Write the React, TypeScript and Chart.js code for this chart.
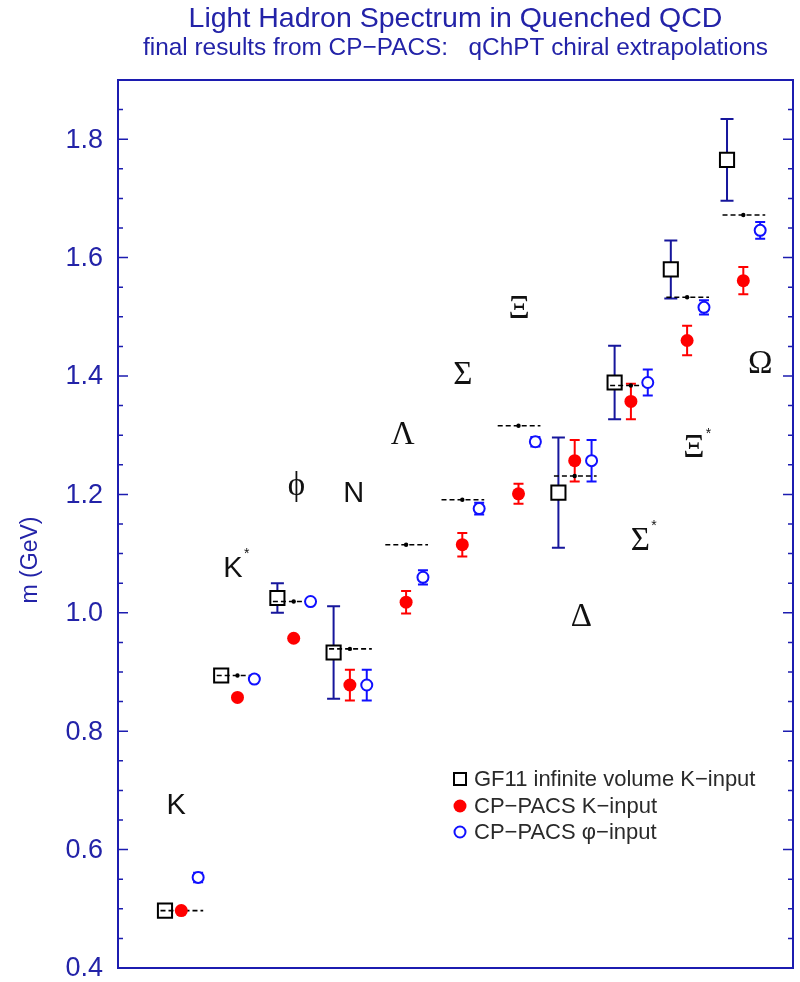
import React, { useEffect, useRef } from 'react';
import { Chart, registerables } from 'chart.js';

Chart.register(...registerables);

// ---------------- data ----------------
const hadronNames = ['K', 'K*', '\u03D5', 'N', 'Λ', 'Σ', 'Ξ', 'Δ', 'Σ*', 'Ξ*', 'Ω'];
const serifNames = [false, false, true, false, true, true, true, true, true, true, true];

const experimentMass = [0.497, 0.894, 1.019, 0.939, 1.115, 1.191, 1.316, 1.231, 1.384, 1.533, 1.672];

const gf11Mass = [0.497, 0.894, 1.025, 0.933, null, null, null, 1.203, 1.389, 1.58, 1.765];
const gf11Err = [0, 0, 0.025, 0.078, null, null, null, 0.093, 0.062, 0.049, 0.069];

const cpKMass = [0.497, 0.857, 0.957, 0.878, 1.018, 1.115, 1.201, 1.257, 1.357, 1.46, 1.561];
const cpKErr = [0, 0, 0, 0.026, 0.019, 0.02, 0.017, 0.035, 0.03, 0.025, 0.023];

const cpPhiMass = [0.553, 0.888, 1.019, 0.878, 1.06, 1.176, 1.289, 1.257, 1.389, 1.516, 1.646];
const cpPhiErr = [0.008, 0, 0, 0.026, 0.012, 0.01, 0.008, 0.035, 0.022, 0.012, 0.014];

// label anchor positions (group index + shift, mass)
const labelShift = [0.2, 0.21, 0.34, 0.36, 0.23, 0.3, 0.3, 0.41, 0.46, 0.41, 0.59];
const labelMass = [0.674, 1.074, 1.213, 1.201, 1.299, 1.401, 1.513, 0.993, 1.121, 1.277, 1.419];

const yTickValues = [0.4, 0.6, 0.8, 1.0, 1.2, 1.4, 1.6, 1.8];

const titleText = 'Light Hadron Spectrum in Quenched QCD';
const subtitleText = 'final results from CP\u2212PACS:   qChPT chiral extrapolations';
const yAxisTitle = 'm (GeV)';
const legendLabels = [
  'GF11 infinite volume K\u2212input',
  'CP\u2212PACS K\u2212input',
  'CP\u2212PACS \u03C6\u2212input',
];

// ---------------- style constants ----------------
const OFF_GF11 = 0;
const OFF_CPK = 0.29;
const OFF_CPPHI = 0.59;
const AXIS_BLUE = '#2323a8';
const FRAME_BLUE = '#1c1cb0';
const GF11_ERR = '#16169c';
const RED = '#ff0000';
const BLUE = '#1010ff';
const SANS = '"Liberation Sans", Arial, sans-serif';
const SERIF = '"Liberation Serif", "DejaVu Serif", serif';

function buildPoints(masses: (number | null)[], errors: (number | null)[], offset: number) {
  const pts: { x: number; y: number }[] = [];
  const errs: number[] = [];
  masses.forEach((m, i) => {
    if (m !== null) {
      pts.push({ x: i + offset, y: m });
      errs.push((errors[i] as number) || 0);
    }
  });
  return { pts, errs };
}

const gf11 = buildPoints(gf11Mass, gf11Err, OFF_GF11);
const cpK = buildPoints(cpKMass, cpKErr, OFF_CPK);
const cpPhi = buildPoints(cpPhiMass, cpPhiErr, OFF_CPPHI);

const expPoints: { x: number; y: number | null }[] = [];
experimentMass.forEach((m, i) => {
  expPoints.push({ x: i - 0.08, y: m });
  expPoints.push({ x: i + 0.29, y: m });
  expPoints.push({ x: i + 0.68, y: m });
  expPoints.push({ x: i + 0.7, y: null });
});

const errorBarPlugin = {
  id: 'errorBars',
  beforeDatasetsDraw(chart: any) {
    const ctx = chart.ctx;
    const ys = chart.scales.y;
    chart.data.datasets.forEach((ds: any, di: number) => {
      if (!ds.errors) return;
      const meta = chart.getDatasetMeta(di);
      ctx.save();
      ctx.strokeStyle = ds.errorColor;
      ctx.lineWidth = 2;
      meta.data.forEach((el: any, i: number) => {
        const e = ds.errors[i];
        if (!e) return;
        const v = ds.data[i].y;
        const x = el.x;
        const yt = ys.getPixelForValue(v + e);
        const yb = ys.getPixelForValue(v - e);
        const c = ds.capHalf;
        ctx.beginPath();
        ctx.moveTo(x, yt);
        ctx.lineTo(x, yb);
        ctx.moveTo(x - c, yt);
        ctx.lineTo(x + c, yt);
        ctx.moveTo(x - c, yb);
        ctx.lineTo(x + c, yb);
        ctx.stroke();
      });
      ctx.restore();
    });
  },
};

const decorPlugin = {
  id: 'decor',
  afterDraw(chart: any) {
    const ctx = chart.ctx;
    const a = chart.chartArea;
    const xs = chart.scales.x;
    const ys = chart.scales.y;
    ctx.save();
    // frame
    ctx.strokeStyle = FRAME_BLUE;
    ctx.lineWidth = 2;
    ctx.strokeRect(a.left, a.top, a.right - a.left, a.bottom - a.top);
    // ticks (major every 0.2, minor every 0.05)
    ctx.lineWidth = 1.5;
    for (let k = 0; k <= 30; k++) {
      const v = 0.4 + k * 0.05;
      if (v > ys.max + 1e-9) break;
      const y = ys.getPixelForValue(v);
      const major = k % 4 === 0;
      const len = major ? 10 : 5;
      ctx.beginPath();
      ctx.moveTo(a.left, y);
      ctx.lineTo(a.left + len, y);
      ctx.moveTo(a.right, y);
      ctx.lineTo(a.right - len, y);
      ctx.stroke();
    }
    // tick labels
    ctx.fillStyle = AXIS_BLUE;
    ctx.font = `27px ${SANS}`;
    ctx.textAlign = 'right';
    ctx.textBaseline = 'middle';
    yTickValues.forEach((v) => {
      ctx.fillText(v.toFixed(1), a.left - 15, ys.getPixelForValue(v) + 1);
    });
    // titles
    const cx = (a.left + a.right) / 2;
    ctx.textAlign = 'center';
    ctx.font = `28.5px ${SANS}`;
    ctx.fillText(titleText, cx, 19);
    ctx.font = `24.4px ${SANS}`;
    ctx.fillText(subtitleText, cx, 48);
    // y axis title
    ctx.save();
    ctx.translate(31, 560);
    ctx.rotate(-Math.PI / 2);
    ctx.font = `23px ${SANS}`;
    ctx.fillText(yAxisTitle, 0, 0);
    ctx.restore();
    // hadron labels
    ctx.fillStyle = '#111';
    hadronNames.forEach((name, i) => {
      const base = name.replace('*', '');
      const star = name.includes('*');
      const x = xs.getPixelForValue(i + labelShift[i]);
      const y = ys.getPixelForValue(labelMass[i]);
      ctx.font = serifNames[i] ? `33px ${SERIF}` : `29px ${SANS}`;
      ctx.textAlign = 'center';
      ctx.textBaseline = 'middle';
      ctx.fillText(base, x, y);
      if (star) {
        const w = ctx.measureText(base).width;
        ctx.font = `14px ${SANS}`;
        ctx.fillText('*', x + w / 2 + 4, y - 15);
      }
    });
    // legend
    const lx = 460;
    const rows = [779, 806, 832];
    ctx.font = `22px ${SANS}`;
    ctx.textAlign = 'left';
    ctx.textBaseline = 'middle';
    ctx.strokeStyle = '#000';
    ctx.lineWidth = 2;
    ctx.fillStyle = '#fff';
    ctx.fillRect(lx - 6, rows[0] - 6, 12, 12);
    ctx.strokeRect(lx - 6, rows[0] - 6, 12, 12);
    ctx.fillStyle = RED;
    ctx.beginPath();
    ctx.arc(lx, rows[1], 6.5, 0, Math.PI * 2);
    ctx.fill();
    ctx.strokeStyle = BLUE;
    ctx.beginPath();
    ctx.arc(lx, rows[2], 5.5, 0, Math.PI * 2);
    ctx.stroke();
    ctx.fillStyle = '#2a2a2a';
    legendLabels.forEach((t, i) => ctx.fillText(t, lx + 14, rows[i] + 1));
    ctx.restore();
  },
};

export default function App() {
  const ref = useRef<HTMLCanvasElement | null>(null);
  useEffect(() => {
    document.body.style.margin = '0';
    const canvas = ref.current;
    if (!canvas) return;
    const chart = new Chart(canvas, {
      type: 'scatter',
      data: {
        datasets: [
          {
            label: 'CP-PACS phi-input',
            data: cpPhi.pts,
            errors: cpPhi.errs,
            errorColor: BLUE,
            capHalf: 5,
            pointStyle: 'circle',
            pointRadius: 5.5,
            pointBorderWidth: 2,
            borderColor: BLUE,
            backgroundColor: '#ffffff',
            order: 1,
          } as any,
          {
            label: 'CP-PACS K-input',
            data: cpK.pts,
            errors: cpK.errs,
            errorColor: RED,
            capHalf: 5,
            pointStyle: 'circle',
            pointRadius: 6.5,
            pointBorderWidth: 0,
            borderColor: RED,
            backgroundColor: RED,
            order: 2,
          } as any,
          {
            label: 'experiment',
            type: 'line',
            data: expPoints,
            showLine: true,
            spanGaps: false,
            borderColor: '#000',
            borderWidth: 1.6,
            borderDash: [5, 3],
            backgroundColor: '#000',
            pointRadius: (c: any) => (c.index % 4 === 1 ? 2.2 : 0),
            pointBorderWidth: 0,
            order: 3,
          } as any,
          {
            label: 'GF11',
            data: gf11.pts,
            errors: gf11.errs,
            errorColor: GF11_ERR,
            capHalf: 6.5,
            pointStyle: 'rect',
            pointRadius: 10,
            pointBorderWidth: 2,
            borderColor: '#000',
            backgroundColor: '#ffffff',
            order: 4,
          } as any,
        ],
      },
      options: {
        responsive: false,
        animation: false,
        devicePixelRatio: 1,
        layout: { autoPadding: false, padding: { top: 80, right: 7, bottom: 14, left: 0 } },
        plugins: {
          legend: { display: false },
          title: { display: false },
          tooltip: { enabled: false },
        },
        events: [],
        scales: {
          x: { type: 'linear', min: -0.836, max: 11.174, display: false },
          y: {
            type: 'linear',
            min: 0.4,
            max: 1.9,
            afterFit: (s: any) => {
              s.width = 118;
            },
            grid: { display: false, drawTicks: false },
            border: { display: false },
            ticks: { display: false },
          },
        },
      } as any,
      plugins: [errorBarPlugin, decorPlugin],
    });
    return () => chart.destroy();
  }, []);
  return <canvas ref={ref} width={800} height={982} style={{ display: 'block' }} />;
}
